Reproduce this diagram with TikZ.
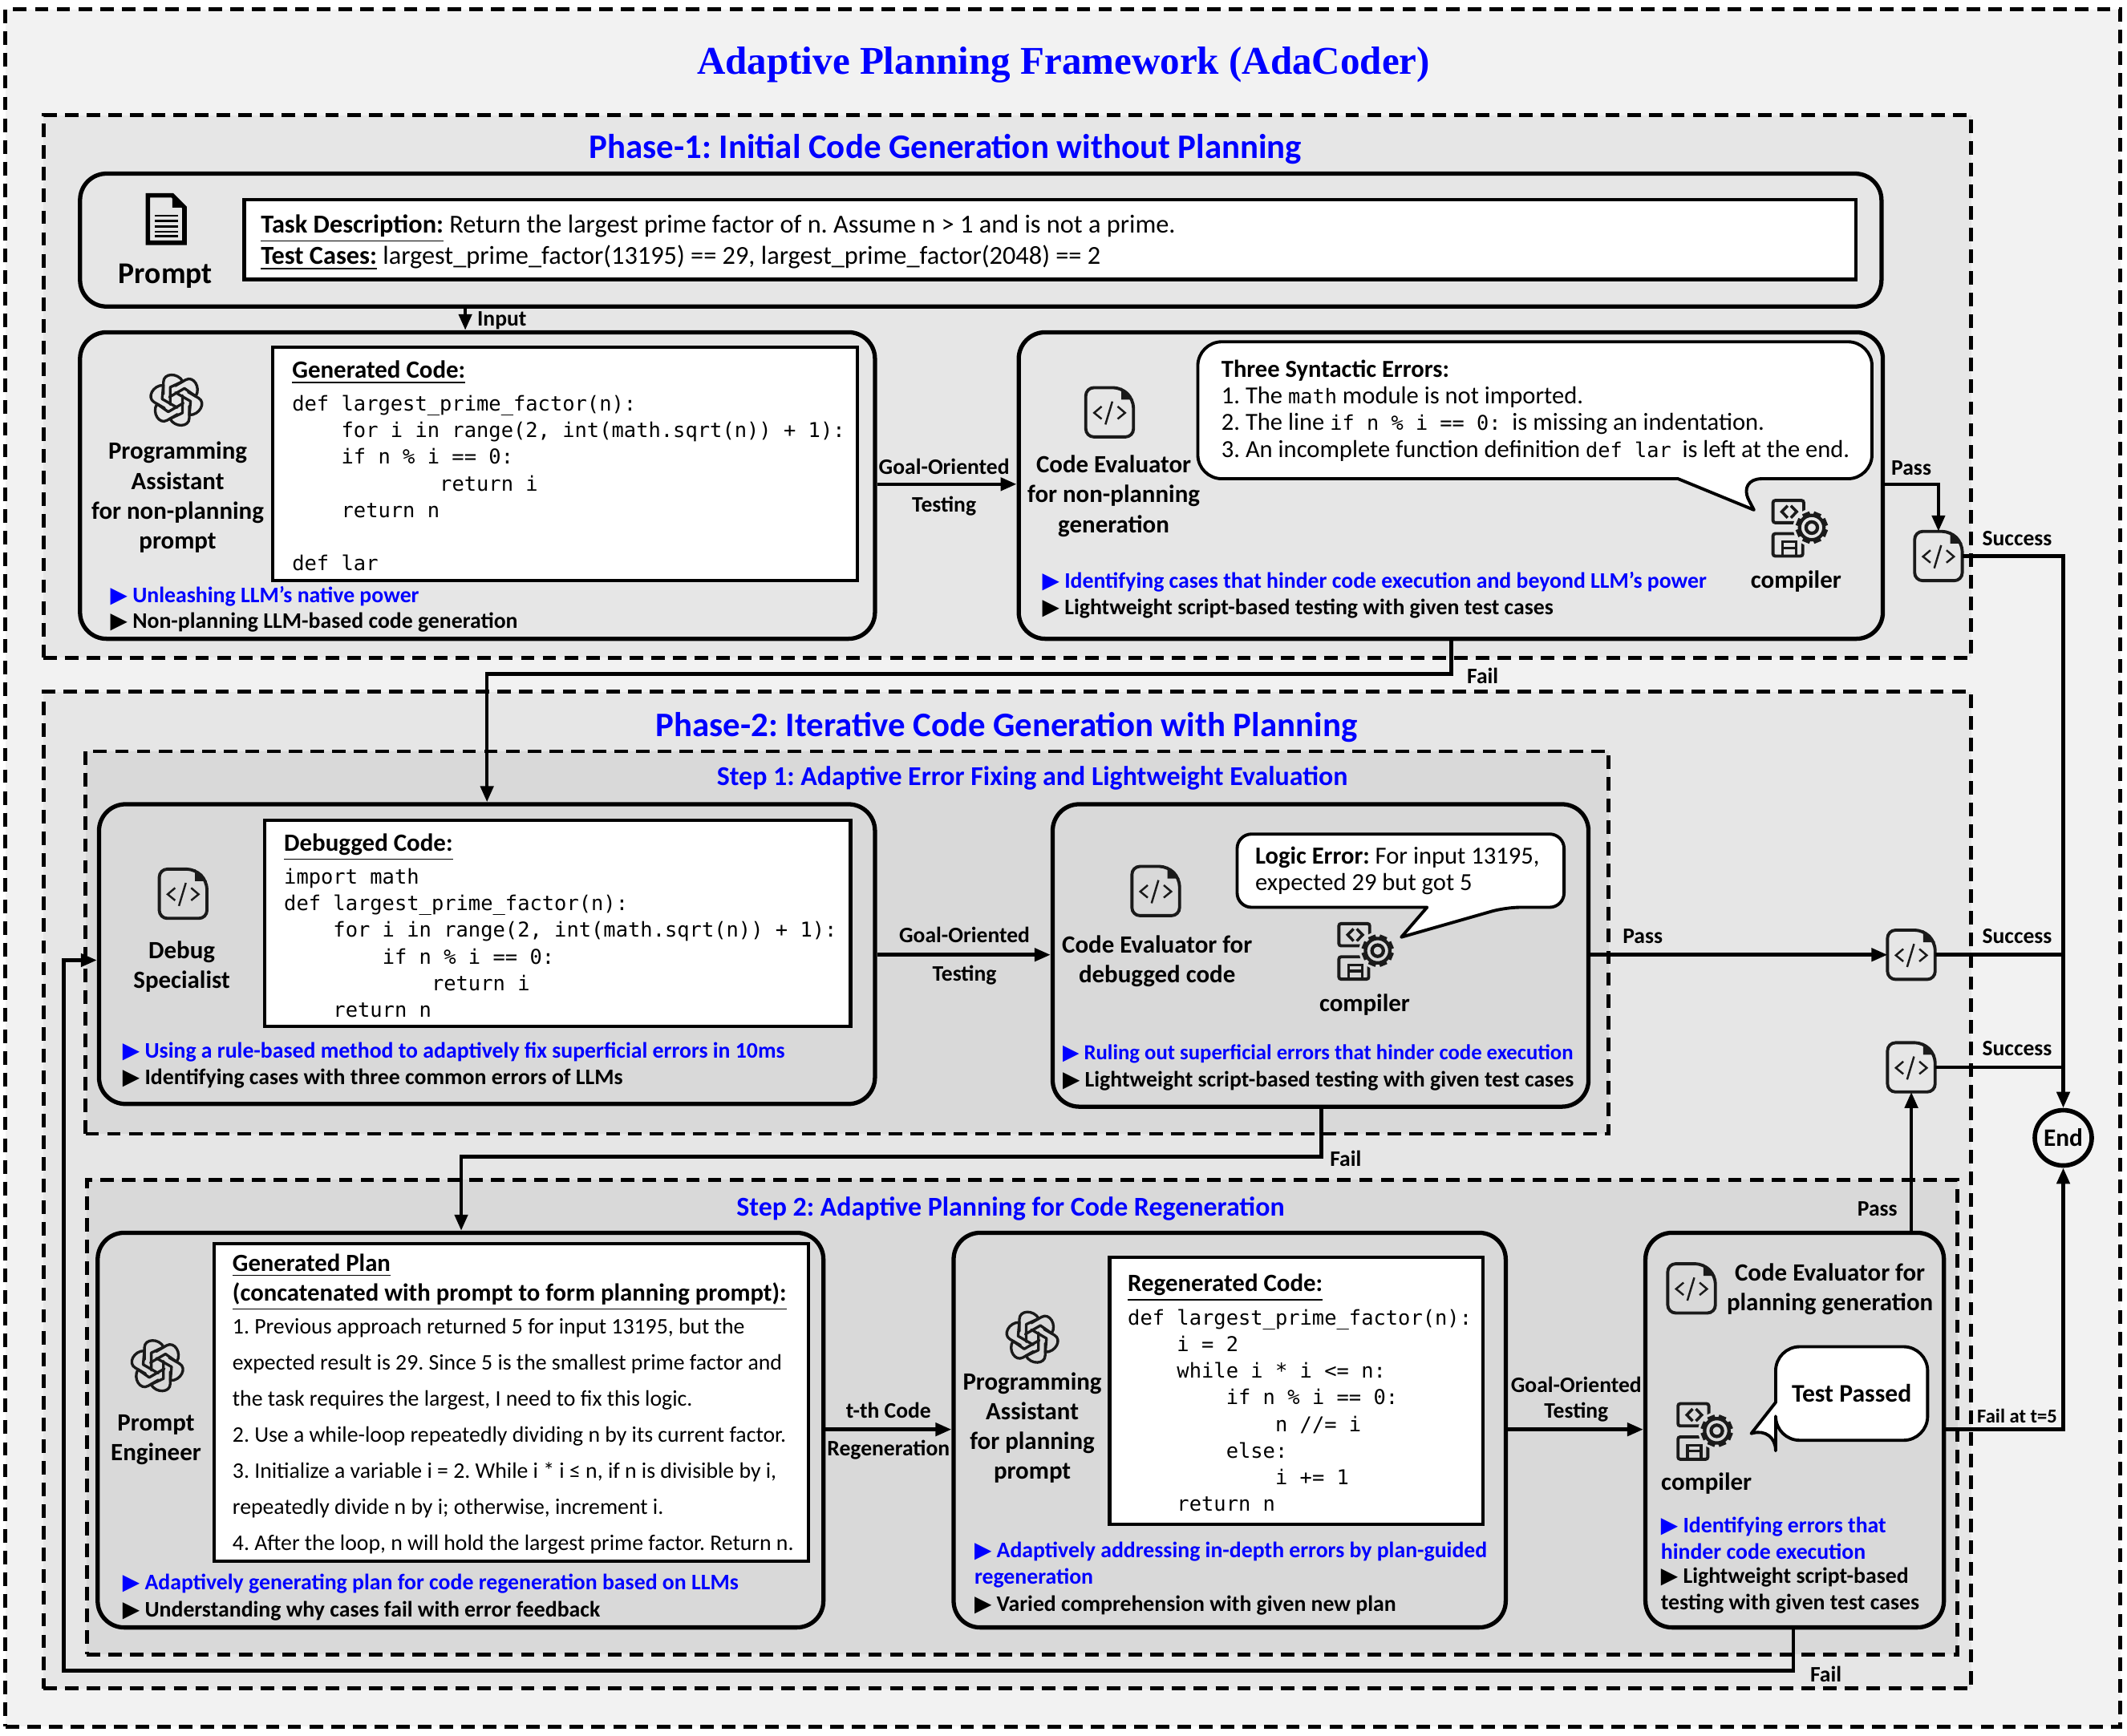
\documentclass[tikz,border=0pt]{standalone}
\usepackage{fontspec}
\setmainfont{Carlito}
\setmonofont{DejaVu Sans Mono}
\newfontfamily\titlefont{Liberation Serif}
\newfontfamily\symbolfont{DejaVu Sans}
\usetikzlibrary{arrows.meta, fit, shapes.geometric}
\definecolor{outerbg}{HTML}{F2F2F2}
\definecolor{phasebg}{HTML}{E6E6E6}
\definecolor{stepbg}{HTML}{D9D9D9}
\definecolor{icondark}{HTML}{1A1A1A}
\newcommand{\tip}{{\symbolfont ▶}\ }
\newcommand{\codeicon}[2]{
\node[codefile] (#1) at (#2) {};
\draw[iconline, rounded corners=1mm] ([xshift=-1.5mm]#1.north east) -- ([yshift=-1.5mm]#1.north east) -- (#1.south east) -- (#1.south west) -- (#1.north west) -- cycle;
\fill[icondark] ([xshift=-1.5mm]#1.north east) -- ([yshift=-1.5mm]#1.north east) -- ([xshift=-1.5mm,yshift=-1.5mm]#1.north east) -- cycle;
\begin{scope}[shift={(#1.center)}]
\draw[icondark, line width=0.7pt] (-5.9,-4.3) -- (-11.4,0.4) -- (-5.9,4.9);
\draw[icondark, line width=0.7pt] (2,-8) -- (-3.1,9);
\draw[icondark, line width=0.7pt] (5.9,-4.3) -- (11.4,0.4) -- (5.9,4.9);
\end{scope}
}
\tikzset{
  dashframe/.style={draw=black, line width=1.4pt, dash pattern=on 4.8pt off 2.9pt, inner sep=0pt},
  panel/.style={draw=black, line width=1.5pt, rounded corners=3.3mm, inner sep=0pt},
  whitebox/.style={draw=black, line width=1.2pt, fill=white, inner sep=0pt},
  bubble/.style={draw=black, line width=1.1pt, fill=white, line join=round},
  flow/.style={line width=1.3pt, -{Triangle[length=2mm, width=1.6mm]}},
  plainflow/.style={line width=1.3pt},
  maintitle/.style={font=\titlefont\fontsize{13.95}{16}\selectfont\bfseries, text=blue, inner sep=0pt},
  phasetitle/.style={font=\fontsize{12.2}{14}\selectfont\bfseries, text=blue, inner sep=0pt},
  steptitle/.style={font=\fontsize{9.65}{11}\selectfont\bfseries, text=blue, inner sep=0pt},
  rolelabel/.style={font=\fontsize{8.8}{10.6}\selectfont\bfseries, align=center, inner sep=0pt, yshift=-0.29mm},
  flowlabel/.style={font=\fontsize{7.85}{9}\selectfont\bfseries, align=center, inner sep=0pt, yshift=-0.2mm},
  notes/.style={font=\fontsize{7.9}{9.4}\selectfont\bfseries, align=left, inner sep=0pt, anchor=west, yshift=-0.17mm},
  bodytext/.style={font=\fontsize{9.2}{11.1}\selectfont, align=left, inner sep=0pt, anchor=north west, yshift=-0.17mm},
  heading/.style={font=\fontsize{8.8}{10}\selectfont\bfseries, inner sep=0pt, anchor=west, yshift=-0.45mm},
  codetext/.style={font=\ttfamily\fontsize{7.24}{9.45}\selectfont, align=left, inner sep=0pt, anchor=north west, yshift=-0.17mm},
  plantext/.style={font=\fontsize{7.9}{12.8}\selectfont, align=left, inner sep=0pt, anchor=north west, yshift=-0.17mm},
  calltext/.style={font=\fontsize{8.7}{9.45}\selectfont, align=left, inner sep=0pt, anchor=north west, yshift=-0.17mm},
  codefile/.style={minimum width=5.8mm, minimum height=6mm, inner sep=0pt},
  iconline/.style={draw=icondark, line width=1.1pt},
  pics/gptlogo/.style={code={
    \foreach \a in {0,60,...,300} {
      \draw[icondark, line width=0.95pt, rotate=\a, line join=round, line cap=round] (-9.5,-4.5) -- (-9.5,-13.4) .. controls (-9.5,-20) and (1,-20.5) .. (4.7,-13.8) -- (-4.5,-9.5) -- (-4.5,3.3);
    }
  }},
  pics/docicon/.style={code={
    \draw[black, line width=1.6pt, line join=miter] (0,0) -- (18,0) -- (27,9) -- (27,35) -- (0,35) -- cycle;
    \fill[black] (18,0) -- (27,9) -- (18,9) -- cycle;
    \foreach \y in {15,19,23,27,30} {
      \draw[black, line width=0.7pt] (5,\y) -- (22,\y);
    }
  }},
  pics/compiler/.style={code={
    \draw[icondark, line width=1.1pt, rounded corners=0.8pt] (0,0) rectangle (22.7,16.4);
    \draw[icondark, line width=1.1pt, rounded corners=0.8pt] (0,24.5) rectangle (22,41);
    \draw[icondark, line width=1pt] (10.8,3.9) -- (6.5,8.3) -- (10.8,12.8);
    \draw[icondark, line width=1pt] (13.2,3.9) -- (17.5,8.3) -- (13.2,12.8);
    \draw[icondark, line width=0.9pt] (7,41) -- (7,30.5) -- (17,30.5) -- (17,41) (7,35) -- (17,35);
    \fill[#1] (28.6,20) circle (13.8);
    \foreach \a in {0,45,...,315} {
      \fill[icondark, rotate around={\a+22.5:(28.6,20)}] (25.8,8.2) rectangle (31.4,12);
    }
    \draw[icondark, fill=#1, line width=1.2pt] (28.6,20) circle (9);
    \draw[icondark, line width=1.2pt] (28.6,20) circle (4.2);
  }}
}
\begin{document}
\frenchspacing
\begin{tikzpicture}[x=0.16913mm, y=-0.16913mm]
\useasboundingbox (0,0) rectangle (1568,1279.5);

\node[dashframe, fill=outerbg, fit={(4,7) (1563,1273)}] (outerframe) {};
\node[maintitle] (maintitle) at (784,48) {Adaptive Planning Framework (AdaCoder)};

\node[dashframe, fill=phasebg, fit={(32,85) (1453,485)}] (phaseone) {};
\node[dashframe, fill=phasebg, fit={(32,510) (1453,1245)}] (phasetwo) {};
\node[dashframe, fill=stepbg, fit={(63,554) (1186,836)}] (stepone) {};
\node[dashframe, fill=stepbg, fit={(64,870) (1443,1220)}] (steptwo) {};
\node[phasetitle] (phaseonetitle) at (697,110) {Phase-1: Initial Code Generation without Planning};
\node[phasetitle] (phasetwotitle) at (742,536) {Phase-2: Iterative Code Generation with Planning};
\node[steptitle] (steponetitle) at (761,574) {Step 1: Adaptive Error Fixing and Lightweight Evaluation};
\node[steptitle] (steptwotitle) at (745,891) {Step 2: Adaptive Planning for Code Regeneration};

\node[panel, fit={(59,128) (1387,226)}] (promptpanel) {};
\node[whitebox, fit={(180,147) (1368,206)}] (taskbox) {};
\pic at (109,144) {docicon};
\node[rolelabel, font=\fontsize{10.7}{12}\selectfont\bfseries] (promptlabel) at (122,202) {Prompt};
\node[bodytext] (tasktext) at (192,157) {\textbf{\underline{Task Description:}} Return the largest prime factor of n. Assume n > 1 and is not a prime.\\ \textbf{\underline{Test Cases:}} largest\_prime\_factor(13195) == 29, largest\_prime\_factor(2048) == 2};

\node[panel, fit={(59,245) (645,471)}] (genpanel) {};
\node[whitebox, fit={(201,256) (632,428)}] (gencodebox) {};
\pic at (130,295) {gptlogo};
\node[rolelabel] (genlabel) at (131,365) {Programming\\Assistant\\for non-planning\\prompt};
\node[heading] (genheading) at (215,272) {\underline{Generated Code:}};
\node[codetext] (gencode) at (215,290) {def largest\_prime\_factor(n):\\~~~~for i in range(2, int(math.sqrt(n)) + 1):\\~~~~if n \% i == 0:\\~~~~~~~~~~~~return i\\~~~~return n\\~\\def lar};
\node[notes, text=blue] (gennoteone) at (81,439) {\tip Unleashing LLM’s native power};
\node[notes] (gennotetwo) at (81,458) {\tip Non-planning LLM-based code generation};

\node[panel, fit={(751,245) (1388,471)}] (evalpanel) {};
\codeicon{evalicon}{818,304}
\node[rolelabel] (evallabel) at (821,364) {Code Evaluator\\for non-planning\\generation};
\draw[bubble, rounded corners=3mm] (1100,252) -- (1380,252) -- (1380,353) -- (1281,353) [sharp corners] -- (1293,376) -- (1237,353) [rounded corners=3mm] -- (883,353) -- (883,252) -- cycle;
\node[calltext] (errortext) at (900,264) {\textbf{Three Syntactic Errors:}\\1. The {\ttfamily\fontsize{7.2}{9}\selectfont math} module is not imported.\\2. The line {\ttfamily\fontsize{7.2}{9}\selectfont if n \% i == 0:}~~is missing an indentation.\\3. An incomplete function definition {\ttfamily\fontsize{7.2}{9}\selectfont def lar}~~is left at the end.};
\pic at (1307,369) {compiler=phasebg};
\node[rolelabel] (evalcompiler) at (1324,427) {compiler};
\node[notes, text=blue] (evalnoteone) at (768,428) {\tip Identifying cases that hinder code execution and beyond LLM’s power};
\node[notes] (evalnotetwo) at (768,448) {\tip Lightweight script-based testing with given test cases};

\node[panel, fit={(73,593) (645,814)}] (debugpanel) {};
\node[whitebox, fit={(195,605) (627,757)}] (debugcodebox) {};
\codeicon{debugicon}{135,659}
\node[rolelabel] (debuglabel) at (134,711) {Debug\\Specialist};
\node[heading] (debugheading) at (209,622) {\underline{Debugged Code:}};
\node[codetext] (debugcode) at (209,639) {import math\\def largest\_prime\_factor(n):\\~~~~for i in range(2, int(math.sqrt(n)) + 1):\\~~~~~~~~if n \% i == 0:\\~~~~~~~~~~~~return i\\~~~~return n};
\node[notes, text=blue] (debugnoteone) at (90,775) {\tip Using a rule-based method to adaptively fix superficial errors in 10ms};
\node[notes] (debugnotetwo) at (90,794) {\tip Identifying cases with three common errors of LLMs};

\node[panel, fit={(776,593) (1171,816)}] (lightpanel) {};
\codeicon{lighticon}{852,657}
\node[rolelabel] (lightlabel) at (853,707) {Code Evaluator for\\debugged code};
\draw[bubble, rounded corners=1.8mm] (1000,615) -- (1153,615) -- (1153,669) -- (1110,669) [sharp corners] -- (1033,691) -- (1052,669) [rounded corners=1.8mm] -- (912,669) -- (912,615) -- cycle;
\node[calltext] (logictext) at (925,623) {\textbf{Logic Error:} For input 13195,\\expected 29 but got 5};
\pic at (987,681) {compiler=stepbg};
\node[rolelabel] (lightcompiler) at (1006,739) {compiler};
\node[notes, text=blue, font=\fontsize{7.6}{9.4}\selectfont\bfseries] (lightnoteone) at (783,776) {\tip Ruling out superficial errors that hinder code execution};
\node[notes] (lightnotetwo) at (783,796) {\tip Lightweight script-based testing with given test cases};

\node[panel, fit={(72,909) (607,1200)}] (planpanel) {};
\node[whitebox, fit={(158,917) (596,1151)}] (planbox) {};
\pic at (116,1007) {gptlogo};
\node[rolelabel] (planlabel) at (115,1060) {Prompt\\Engineer};
\node[heading, align=left, font=\fontsize{8.75}{10.6}\selectfont\bfseries, anchor=north west, yshift=0.28mm] (planheading) at (171,923) {\underline{Generated Plan}\\\underline{(concatenated with prompt to form planning prompt):}};
\node[plantext] (plantext) at (171,971) {1. Previous approach returned 5 for input 13195, but the\\expected result is 29. Since 5 is the smallest prime factor and\\the task requires the largest, I need to fix this logic.\\2. Use a while-loop repeatedly dividing n by its current factor.\\3. Initialize a variable i = 2. While i * i ≤ n, if n is divisible by i,\\repeatedly divide n by i; otherwise, increment i.\\4. After the loop, n will hold the largest prime factor. Return n.};
\node[notes, text=blue] (plannoteone) at (90,1167) {\tip Adaptively generating plan for code regeneration based on LLMs};
\node[notes] (plannotetwo) at (90,1187) {\tip Understanding why cases fail with error feedback};

\node[panel, fit={(703,909) (1110,1200)}] (regenpanel) {};
\node[whitebox, fit={(818,927) (1093,1124)}] (regencodebox) {};
\pic at (761,986) {gptlogo};
\node[rolelabel] (regenlabel) at (761,1051) {Programming\\Assistant\\for planning\\prompt};
\node[heading] (regenheading) at (831,947) {\underline{Regenerated Code:}};
\node[codetext] (regencode) at (831,964) {def largest\_prime\_factor(n):\\~~~~i = 2\\~~~~while i * i <= n:\\~~~~~~~~if n \% i == 0:\\~~~~~~~~~~~~n //= i\\~~~~~~~~else:\\~~~~~~~~~~~~i += 1\\~~~~return n};
\node[notes, text=blue] (regennoteone) at (718,1153) {\tip Adaptively addressing in-depth errors by plan-guided\\regeneration};
\node[notes] (regennotetwo) at (718,1183) {\tip Varied comprehension with given new plan};

\node[panel, fit={(1213,909) (1433,1200)}] (finalpanel) {};
\codeicon{finalicon}{1247,950}
\node[rolelabel] (finallabel) at (1349,949) {Code Evaluator for\\planning generation};
\draw[bubble, rounded corners=3mm] (1360,993) -- (1421,993) -- (1421,1062) -- (1309,1062) -- (1309,1052) [sharp corners] -- (1291,1057) -- (1309,1034) [rounded corners=3mm] -- (1309,993) -- cycle;
\node[calltext, font=\fontsize{9}{10}\selectfont\bfseries, anchor=center] (passedtext) at (1365,1026) {Test Passed};
\pic at (1237,1035) {compiler=stepbg};
\node[rolelabel] (finalcompiler) at (1258,1092) {compiler};
\node[notes, text=blue] (finalnoteone) at (1224,1133) {\tip Identifying errors that\\hinder code execution};
\node[notes] (finalnotetwo) at (1224,1172) {\tip Lightweight script-based\\testing with given test cases};

\codeicon{doneone}{1429,410}
\codeicon{donetwo}{1409,704}
\codeicon{donethree}{1409,787}
\node[ellipse, draw=black, line width=1.6pt, minimum width=7.1mm, minimum height=6.9mm, inner sep=0pt, font=\fontsize{8.9}{10}\selectfont\bfseries] (endnode) at (1521,839) {End};

\coordinate (inputx) at (343,0);
\coordinate (passonex) at (1429,357);
\coordinate (goaloney) at (0,357);
\coordinate (failonex) at (1070,497);
\coordinate (debugx) at (359,0);
\coordinate (goaltwoy) at (0,704);
\coordinate (failtwox) at (974,853);
\coordinate (planx) at (340,0);
\coordinate (regeny) at (0,1054);
\coordinate (failthreex) at (1322,1232);
\coordinate (loopx) at (47,708);
\coordinate (endx) at (1521,0);

\draw[flow] (promptpanel.south -| inputx) -- (genpanel.north -| inputx);
\draw[flow] (genpanel.east |- goaloney) -- (evalpanel.west |- goaloney);
\draw[flow] (evalpanel.east |- passonex) -- (passonex) -- (doneone.north);
\draw[flow] (doneone.east) -| (endnode.north);
\draw[flow] (evalpanel.south -| failonex) -- (failonex) -| (debugpanel.north -| debugx);
\draw[flow] (debugpanel.east |- goaltwoy) -- (lightpanel.west |- goaltwoy);
\draw[flow] (lightpanel.east |- goaltwoy) -- (donetwo.west);
\draw[plainflow] (donetwo.east) -- (donetwo.east -| endx);
\draw[plainflow] (donethree.east) -- (donethree.east -| endx);
\draw[flow] (lightpanel.south -| failtwox) -- (failtwox) -| (planpanel.north -| planx);
\draw[flow] (planpanel.east |- regeny) -- (regenpanel.west |- regeny);
\draw[flow] (regenpanel.east |- regeny) -- (finalpanel.west |- regeny);
\draw[flow] (finalpanel.north -| donethree) -- (donethree.south);
\draw[flow] (finalpanel.east |- regeny) -| (endnode.south);
\draw[flow] (finalpanel.south -| failthreex) -- (failthreex) -- (failthreex -| loopx) -- (loopx) -- (debugpanel.west |- loopx);

\node[flowlabel] (inputlabel) at (370,235) {Input};
\node[flowlabel] (goalonetop) at (696,343) {Goal-Oriented};
\node[flowlabel] (goalonebottom) at (696,372) {Testing};
\node[flowlabel] (passone) at (1409,344) {Pass};
\node[flowlabel] (successone) at (1487,396) {Success};
\node[flowlabel] (failone) at (1093,497) {Fail};
\node[flowlabel] (goaltwotop) at (711,688) {Goal-Oriented};
\node[flowlabel] (goaltwobottom) at (711,718) {Testing};
\node[flowlabel] (passtwo) at (1211,689) {Pass};
\node[flowlabel] (successtwo) at (1487,689) {Success};
\node[flowlabel] (successthree) at (1487,772) {Success};
\node[flowlabel] (failtwo) at (992,853) {Fail};
\node[flowlabel] (codetop) at (655,1039) {t-th Code};
\node[flowlabel] (codebottom) at (655,1068) {Regeneration};
\node[flowlabel] (goalthreetop) at (1162,1020) {Goal-Oriented};
\node[flowlabel] (goalthreebottom) at (1162,1040) {Testing};
\node[flowlabel] (passthree) at (1384,890) {Pass};
\node[flowlabel, font=\fontsize{7}{8}\selectfont\bfseries] (failfive) at (1487,1043) {Fail at t=5};
\node[flowlabel] (failthree) at (1346,1233) {Fail};

\end{tikzpicture}
\end{document}
